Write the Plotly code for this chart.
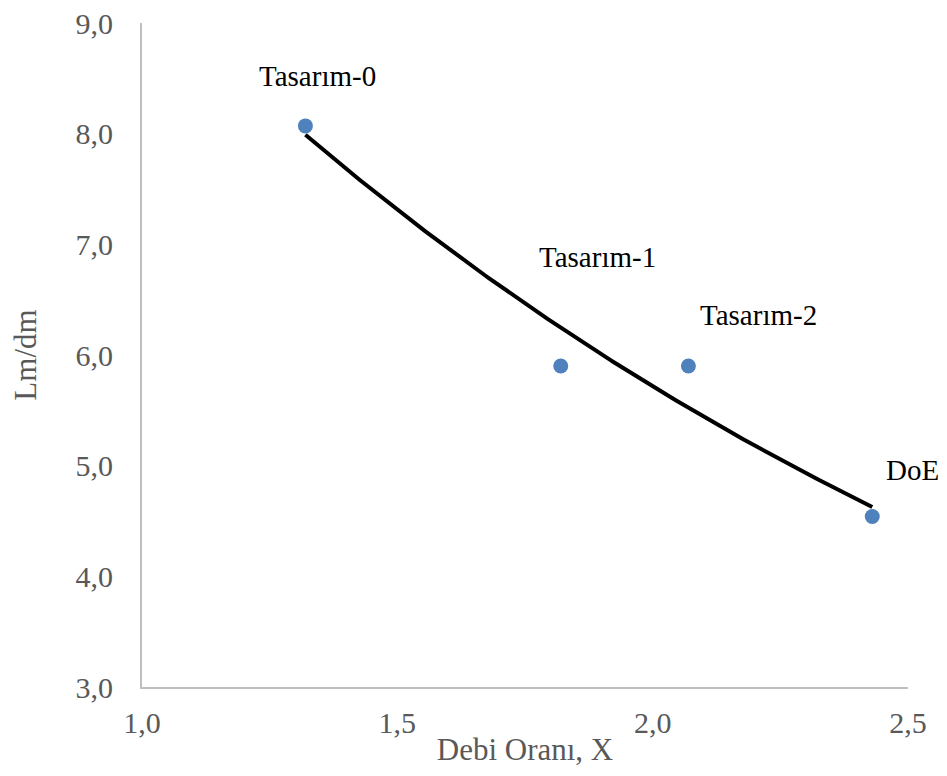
import numpy as np
import plotly.graph_objects as go

# Data
labels = ["Tasarım-0", "Tasarım-1", "Tasarım-2", "DoE"]
debi_orani = [1.32, 1.82, 2.07, 2.43]
lm_dm = [8.07, 5.90, 5.90, 4.54]

x_title = "Debi Oranı, X"
y_title = "Lm/dm"

# label offsets in px (style)
label_shift_x = [12, 37, 70, 40]
label_shift_y = [50, 109, 51, 47]

# Exponential trendline (Excel-style) fitted from the data
b, a = np.polyfit(debi_orani, np.log(lm_dm), 1)
xt = np.linspace(min(debi_orani), max(debi_orani), 200)
yt = np.exp(a + b * xt)

fig = go.Figure()
fig.add_trace(go.Scatter(x=xt, y=yt, mode="lines",
                         line=dict(color="black", width=4), hoverinfo="skip",
                         showlegend=False))
fig.add_trace(go.Scatter(x=debi_orani, y=lm_dm, mode="markers",
                         marker=dict(color="#4F81BD", size=15),
                         showlegend=False))

for lab, xv, yv, sx, sy in zip(labels, debi_orani, lm_dm, label_shift_x, label_shift_y):
    fig.add_annotation(x=xv, y=yv, text=lab, showarrow=False,
                       xshift=sx, yshift=sy,
                       font=dict(family="Liberation Serif", size=29, color="black"))

# page body has an 8px default margin; figure sized to fit the window
fig.update_layout(
    width=931, height=760,
    margin=dict(l=134, r=31, t=15, b=81),
    paper_bgcolor="white", plot_bgcolor="white",
    separators=",.",
    font=dict(family="Liberation Serif", color="#595959"),
)
fig.update_xaxes(range=[1.0, 2.5], tickvals=[1.0, 1.5, 2.0, 2.5], tickformat=".1f",
                 showgrid=False, zeroline=False, showline=True, linecolor="#BFBFBF",
                 linewidth=2, ticks="", tickfont=dict(size=30, color="#595959"),
                 ticklabelstandoff=8, automargin=False, ticklabeloverflow="allow",
                 title=dict(text=x_title, font=dict(size=31, color="#595959"), standoff=0))
fig.update_yaxes(range=[3.0, 9.0], tickvals=[3, 4, 5, 6, 7, 8, 9], tickformat=".1f",
                 showgrid=False, zeroline=False, showline=True, linecolor="#BFBFBF",
                 linewidth=2, ticks="", tickfont=dict(size=30, color="#595959"),
                 ticklabelstandoff=21, automargin=False, ticklabeloverflow="allow",
                 title=dict(text=y_title, font=dict(size=31, color="#595959"), standoff=30))

fig.write_html("out.html")
